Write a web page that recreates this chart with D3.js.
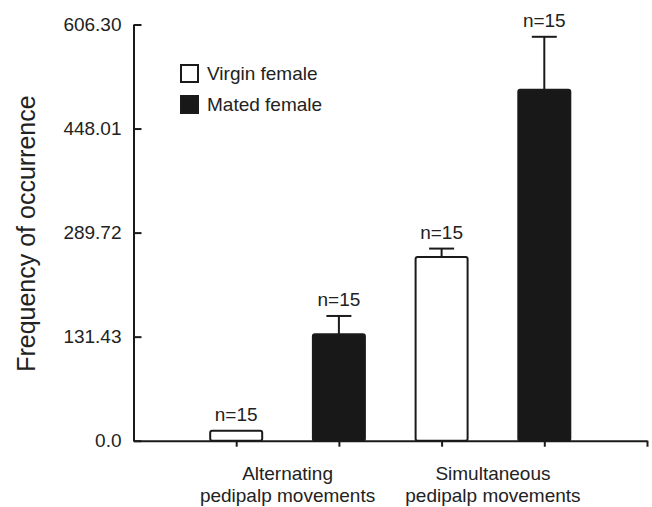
<!DOCTYPE html>
<html><head><meta charset="utf-8">
<script src="https://cdn.jsdelivr.net/npm/d3@7/dist/d3.min.js"></script>
<style>
html,body{margin:0;padding:0;background:#fff;}
text{font-family:"Liberation Sans",Arial,Helvetica,sans-serif;fill:#222;}
</style></head>
<body><svg id="c" width="652" height="507"></svg>
<script>
// ---- data ----
const groups = ["Alternating\npedipalp movements", "Simultaneous\npedipalp movements"];
const seriesNames = ["Virgin female", "Mated female"];
const means = [[12.6, 135.1], [252.7, 506.9]];   // [group][series]
const errors = [[null, 27.8], [12.7, 80.7]];
const nLabels = [["n=15", "n=15"], ["n=15", "n=15"]];
const yTicks = [0, 131.43, 289.72, 448.01, 606.30];
const yTickLabels = ["0.0", "131.43", "289.72", "448.01", "606.30"];
const yTitle = "Frequency of occurrence";

// ---- layout ----
const svg = d3.select("#c");
const x0 = 133.5, x1 = 647, yBottom = 440.7, yTop = 24.5;
const fill = ["#ffffff", "#181818"];
const ink = "#1a1a1a";

// piecewise linear y scale (ticks evenly spaced as in original)
const step = (yBottom - yTop) / (yTicks.length - 1);
const y = d3.scaleLinear().domain(yTicks).range(yTicks.map((d, i) => yBottom - i * step));

// x slots: one slot per bar plus an end tick
const slots = [];
groups.forEach((g, gi) => seriesNames.forEach((s, si) => slots.push(gi + "-" + si)));
const x = d3.scalePoint().domain(["start", ...slots, "end"]).range([x0, x1]);
const barW = 52;

// Y axis
const yAxis = d3.axisLeft(y).tickValues(yTicks).tickFormat((d, i) => yTickLabels[i])
  .tickSizeInner(-8).tickSizeOuter(0).tickPadding(12);
const gy = svg.append("g").attr("transform", `translate(${x0},0)`).call(yAxis);
gy.select(".domain").attr("stroke", ink).attr("stroke-width", 2);
gy.selectAll(".tick line").attr("stroke", ink).attr("stroke-width", 2);
gy.selectAll(".tick text").attr("font-size", 19).attr("fill", "#222")
  .attr("font-family", '"Liberation Sans",Arial,sans-serif');

// bars
const barData = [];
groups.forEach((g, gi) => seriesNames.forEach((s, si) => barData.push({
  key: gi + "-" + si, si, v: means[gi][si], e: errors[gi][si], n: nLabels[gi][si]
})));
const gb = svg.append("g");
gb.selectAll("rect").data(barData).enter().append("rect")
  .attr("x", d => x(d.key) - barW / 2)
  .attr("y", d => y(d.v))
  .attr("width", barW)
  .attr("height", d => y(0) - y(d.v))
  .attr("rx", 2)
  .attr("fill", d => fill[d.si])
  .attr("stroke", ink).attr("stroke-width", 2);

// error bars
const eb = barData.filter(d => d.e != null);
gb.selectAll("line.eb").data(eb).enter().append("line").attr("class", "eb")
  .attr("x1", d => x(d.key)).attr("x2", d => x(d.key))
  .attr("y1", d => y(d.v)).attr("y2", d => y(d.v + d.e))
  .attr("stroke", ink).attr("stroke-width", 2);
gb.selectAll("line.cap").data(eb).enter().append("line").attr("class", "cap")
  .attr("x1", d => x(d.key) - 12.5).attr("x2", d => x(d.key) + 12.5)
  .attr("y1", d => y(d.v + d.e)).attr("y2", d => y(d.v + d.e))
  .attr("stroke", ink).attr("stroke-width", 2);

// n labels
gb.selectAll("text.n").data(barData).enter().append("text").attr("class", "n")
  .attr("x", d => x(d.key)).attr("y", d => y(d.v + (d.e || 0)) - 10)
  .attr("text-anchor", "middle").attr("font-size", 19).text(d => d.n);

// X axis
const xAxis = d3.axisBottom(x).tickValues([...slots, "end"]).tickFormat("").tickSizeInner(6).tickSizeOuter(0);
const gx = svg.append("g").attr("transform", `translate(0,${yBottom})`).call(xAxis);
gx.select(".domain").attr("stroke", ink).attr("stroke-width", 2);
gx.selectAll(".tick line").attr("stroke", ink).attr("stroke-width", 2);

// group labels
groups.forEach((g, gi) => {
  const cx = (x(gi + "-0") + x(gi + "-1")) / 2;
  const t = svg.append("text").attr("text-anchor", "middle").attr("font-size", 19);
  g.split("\n").forEach((line, li) => {
    t.append("tspan").attr("x", cx).attr("y", 480 + li * 22).text(line);
  });
});

// y title
svg.append("text").attr("transform", `translate(35,${(yTop + yBottom) / 2 + 1}) rotate(-90)`)
  .attr("text-anchor", "middle").attr("font-size", 25).text(yTitle);

// legend
const lg = svg.append("g").attr("transform", "translate(181,65)");
seriesNames.forEach((s, i) => {
  lg.append("rect").attr("x", 0).attr("y", i * 31).attr("width", 17).attr("height", 17)
    .attr("fill", fill[i]).attr("stroke", ink).attr("stroke-width", 2);
  lg.append("text").attr("x", 26).attr("y", i * 31 + 8.5).attr("dy", "0.35em")
    .attr("font-size", 19).text(s);
});
</script></body></html>
